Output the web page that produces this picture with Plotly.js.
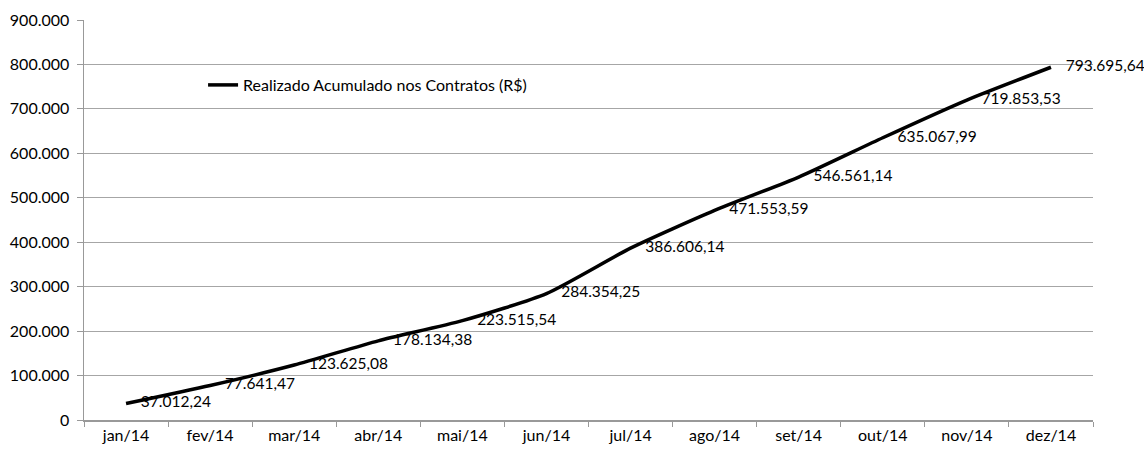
<!DOCTYPE html>
<html>
<head>
<meta charset="utf-8">
<script src="https://cdn.plot.ly/plotly-3.0.1.min.js"></script>
<style>html,body{margin:0;padding:0;background:#fff;}#chart{width:1144px;height:450px;}</style>
</head>
<body>
<div id="chart"></div>
<script>
const months = ["jan/14","fev/14","mar/14","abr/14","mai/14","jun/14","jul/14","ago/14","set/14","out/14","nov/14","dez/14"];
const realizado = [37012.24, 77641.47, 123625.08, 178134.38, 223515.54, 284354.25, 386606.14, 471553.59, 546561.14, 635067.99, 719853.53, 793695.64];
const seriesName = "Realizado Acumulado nos Contratos (R$)";
const yTicks = [0,100000,200000,300000,400000,500000,600000,700000,800000,900000];

const trace = {
  x: months, y: realizado, type: 'scatter', mode: 'lines+markers+text', name: seriesName,
  line: {color: '#000', width: 3.5, shape: 'spline', smoothing: 0.6},
  marker: {size: 22, color: 'rgba(0,0,0,0)', line: {width: 0}},
  texttemplate: '%{y:,.2f}', textposition: 'middle right',
  textfont: {family: 'Lato, "Liberation Sans", sans-serif', size: 15.5, color: '#000'},
  cliponaxis: false
};
const layout = {
  width: 1144, height: 450,
  margin: {l: 84, r: 51, t: 20, b: 30},
  paper_bgcolor: '#fff', plot_bgcolor: '#fff',
  separators: ',.',
  font: {family: 'Lato, "Liberation Sans", sans-serif', size: 16, color: '#000'},
  showlegend: true,
  legend: {x: 0.118, y: 0.8375, xanchor: 'left', yanchor: 'middle', bgcolor: 'rgba(0,0,0,0)',
           font: {size: 16}, itemwidth: 30},
  xaxis: {type: 'category', tickson: 'boundaries', ticks: 'outside', ticklen: 5, tickcolor: '#999',
          showline: true, linecolor: '#999', linewidth: 1.5, showgrid: false, tickfont: {size: 16},
          range: [-0.5, 11.5], fixedrange: true},
  yaxis: {range: [0, 900000], tickvals: yTicks, tickformat: ',d', ticks: 'outside', ticklen: 6, tickcolor: '#999',
          showline: true, linecolor: '#999', linewidth: 1.5, showgrid: true, gridcolor: '#a6a6a6', gridwidth: 1,
          zeroline: false, tickfont: {size: 16}, ticklabelstandoff: 4}
};
Plotly.newPlot('chart', [trace], layout, {displayModeBar: false, staticPlot: true});
</script>
</body>
</html>
